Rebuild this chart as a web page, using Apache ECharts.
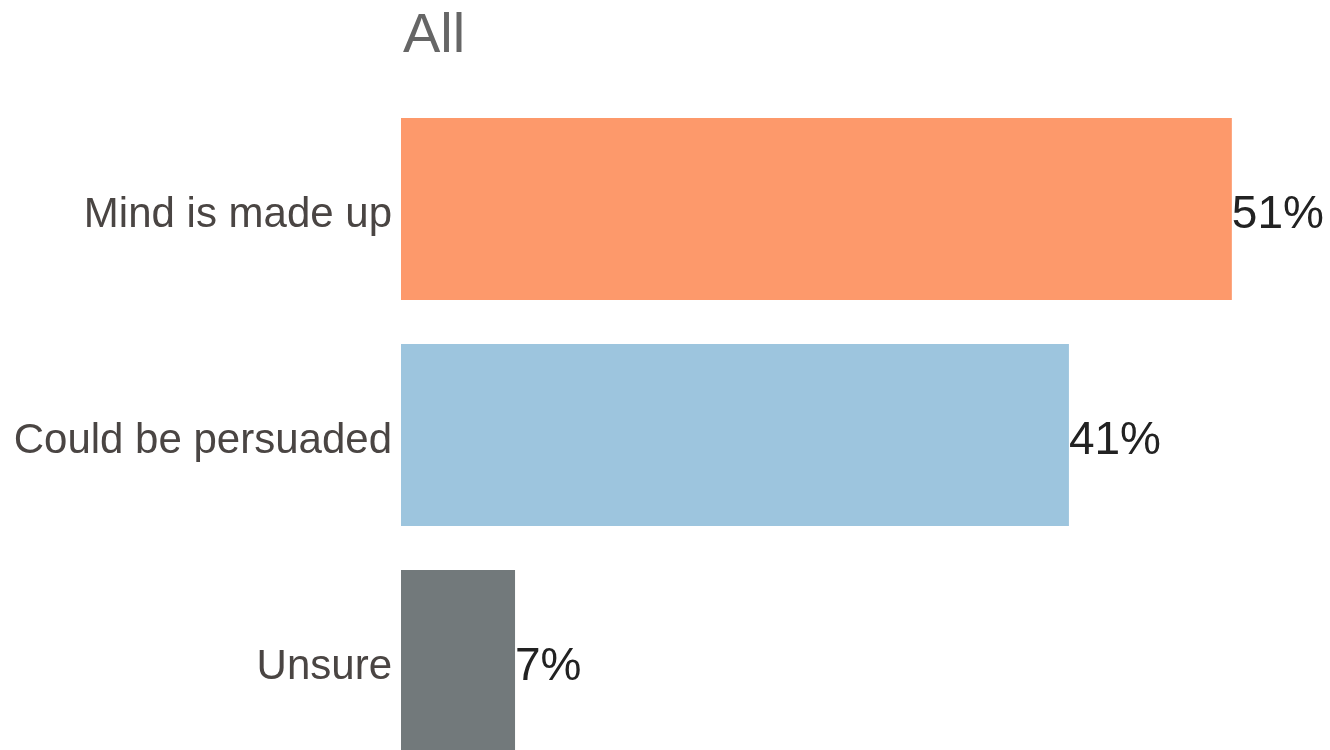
<!DOCTYPE html>
<html><head><meta charset="utf-8">
<script src="https://cdn.jsdelivr.net/npm/echarts@6/dist/echarts.min.js"></script>
<style>html,body{margin:0;padding:0;background:#fff}#c{width:1330px;height:750px}</style>
</head><body><div id="c"></div>
<script>
const categories = ["Mind is made up", "Could be persuaded", "Unsure"];
const values = [51, 41, 7];
const colors = ["#FD996B", "#9DC5DE", "#72797B"];
const titleText = "All";

const chart = echarts.init(document.getElementById('c'), null, {renderer: 'canvas'});
const FF = "'Liberation Sans', Arial, sans-serif";
chart.setOption({
  animation: false,
  backgroundColor: '#fff',
  title: {
    text: titleText, left: 398, top: 4,
    textStyle: {fontFamily: FF, fontSize: 56, fontWeight: 'normal', color: '#666666'}
  },
  grid: {left: 401, right: 33, top: 96, bottom: -24, containLabel: false, outerBoundsMode: 'none'},
  xAxis: {type: 'value', min: 0, max: 55, show: false},
  yAxis: {
    type: 'category', data: categories, inverse: true,
    axisLine: {show: false}, axisTick: {show: false}, splitLine: {show: false},
    axisLabel: {margin: 9, fontFamily: FF, fontSize: 42, color: '#4A4543',
      verticalAlign: 'top', lineHeight: 12}
  },
  series: [{
    type: 'bar', barCategoryGap: '19.5%',
    data: values.map((v, i) => ({value: v, itemStyle: {color: colors[i]}})),
    label: {show: true, position: 'right', distance: 0, formatter: '{c}%', offset: [0, 6],
      fontFamily: FF, fontSize: 46, color: '#222222'}
  }]
});
</script></body></html>
